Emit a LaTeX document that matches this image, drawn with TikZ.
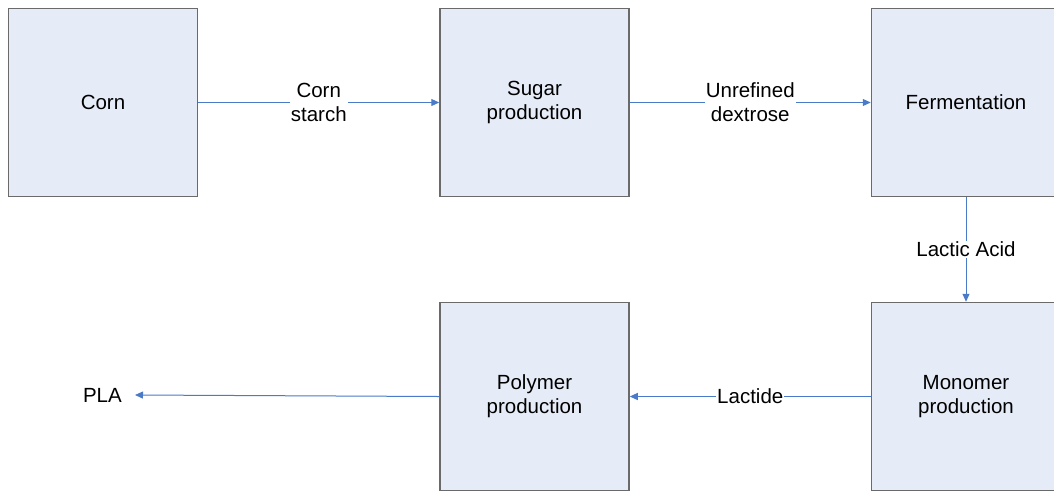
\documentclass[tikz,border=0pt]{standalone}
\usepackage{fontspec}
\setmainfont{Liberation Sans}
\usetikzlibrary{arrows.meta}
\definecolor{boxfill}{HTML}{E6ECF7}
\definecolor{boxline}{HTML}{6A6A6A}
\definecolor{flow}{HTML}{4A7BC8}
\begin{document}
\begin{tikzpicture}[x=1pt,y=-1pt,
  stagebox/.style={draw=boxline,fill=boxfill,line width=1.5pt,
    minimum width=189pt,minimum height=188pt,inner sep=0pt,
    align=center,font=\fontsize{20.5}{24}\selectfont},
  flowarrow/.style={draw=flow,line width=1pt,-{Triangle[length=8pt,width=7pt]}},
  flowlabel/.style={fill=white,inner xsep=1pt,inner ysep=1pt,align=center,
    font=\fontsize{20.5}{24}\selectfont}]
\useasboundingbox (0,0) rectangle (1054,491);
\clip (0,0) rectangle (1054,491);

% process stages
\node[stagebox] (corn)  at (103,102.5)   {Corn};
\node[stagebox] (sugar) at (534.5,102.5) {Sugar\\production};
\node[stagebox] (ferm)  at (966,102.5)   {Fermentation};
\node[stagebox] (mono)  at (966,396.5)   {Monomer\\production};
\node[stagebox] (poly)  at (534.5,396.5) {Polymer\\production};

% final product
\node[inner ysep=0pt,inner xsep=13pt,font=\fontsize{20.5}{24}\selectfont,anchor=east]
  (pla) at (135,395) {PLA};

% material flows
\draw[flowarrow] (corn.east) -- node[flowlabel] {Corn\\starch} (sugar.west);
\draw[flowarrow] (sugar.east) -- node[flowlabel] {Unrefined\\dextrose} (ferm.west);
\draw[flowarrow] (ferm.south) -- node[flowlabel] {Lactic Acid} (mono.north);
\draw[flowarrow] (mono.west) -- node[flowlabel] {Lactide} (poly.east);
\draw[flowarrow] (poly.west) -- (pla.east);
\end{tikzpicture}
\end{document}
